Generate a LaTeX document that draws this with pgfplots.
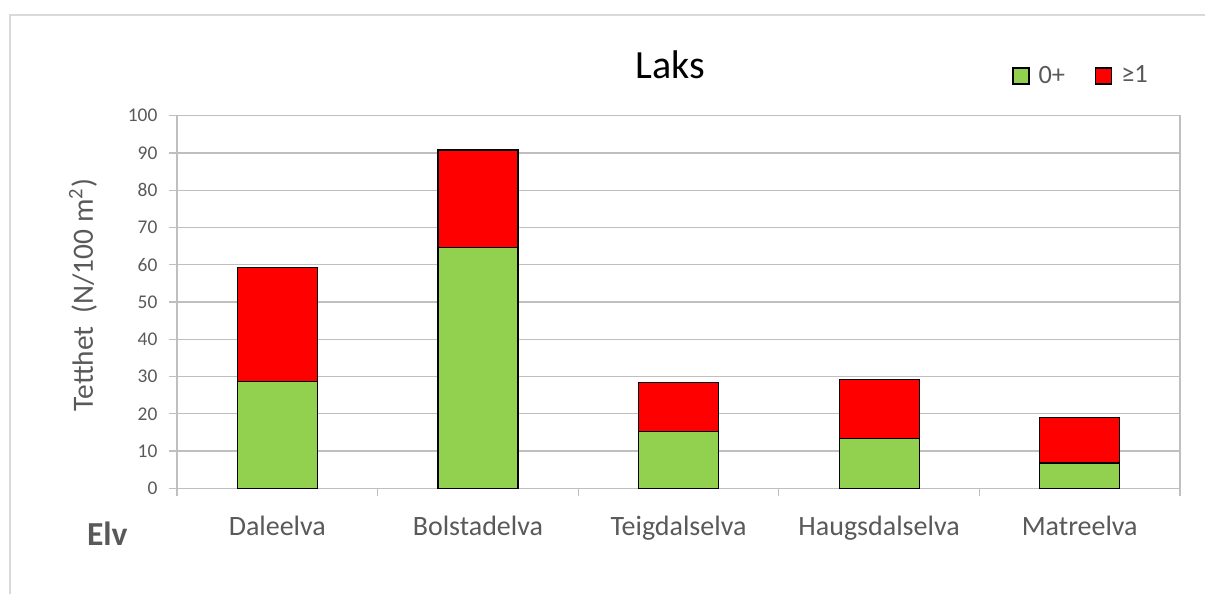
\documentclass[border=0pt]{standalone}
\usepackage{fontspec}
\setmainfont{Carlito}
\usepackage{pgfplots}
\pgfplotsset{compat=1.18}
\definecolor{grn}{HTML}{92D050}
\definecolor{rd}{HTML}{FF0000}
\definecolor{txt}{HTML}{595959}
\definecolor{grid}{HTML}{D9D9D9}
\definecolor{axl}{HTML}{BFBFBF}
\definecolor{brd}{HTML}{D9D9D9}
\begin{document}
\begin{tikzpicture}
\useasboundingbox (0,0) rectangle (602.5pt,297pt);
\draw[brd, line width=0.8pt] (5pt,-5pt) -- (5pt,289.5pt) -- (610pt,289.5pt);
\begin{axis}[
  at={(88.5pt,52.85pt)}, anchor=south west,
  scale only axis, width=501.5pt, height=186.3pt,
  ybar stacked, bar width=40pt,
  xmin=-0.5, xmax=4.5, ymin=0, ymax=100,
  xtick={-0.5,0.5,1.5,2.5,3.5,4.5},
  x tick label as interval,
  xticklabels={Daleelva,Bolstadelva,Teigdalselva,Haugsdalselva,Matreelva},
  ytick={0,10,...,100},
  xtick pos=bottom, ytick pos=left,
  tick align=outside, major tick length=4pt,
  tick style={axl, line width=0.6pt},
  axis line style={axl, line width=0.6pt},
  xmajorgrids=false, ymajorgrids=true, grid style={grid, line width=0.6pt},
  xticklabel style={font=\fontsize{14}{16}\selectfont, text=txt, anchor=base, yshift=-19.7pt},
  yticklabel style={font=\fontsize{9.7}{11}\selectfont, text=txt, xshift=-2.3pt},
  /pgf/number format/assume math mode=true,
  legend columns=2,
  legend style={at={(0.8325,1.1066)}, anchor=west, draw=none, fill=none, inner sep=0pt,
    font=\fontsize{13.2}{15}\selectfont, text=txt,
    /tikz/every even column/.append style={column sep=13pt}},
  legend image code/.code={\draw[#1,draw=black,line width=0.6pt] (0pt,-4pt) rectangle (8pt,4pt); \path (10.5pt,0pt);},
]
\addplot[fill=grn, draw=black, line width=0.6pt] coordinates {(0,28.6) (1,64.6) (2,15.3) (3,13.3) (4,6.8)};
\addplot[fill=rd, draw=black, line width=0.6pt] coordinates {(0,30.7) (1,26.2) (2,13.0) (3,15.8) (4,12.2)};
\legend{0+,≥1}
\end{axis}
\node[anchor=base, font=\fontsize{20}{24}\selectfont] at (335pt,257.5pt) {Laks};
\node[rotate=90, font=\fontsize{14.7}{17}\selectfont, text=txt] at (41.5pt,149.5pt) {Tetthet\ \ (N/100 m\textsuperscript{2})};
\node[anchor=base west, inner sep=0pt, font=\fontsize{16.8}{20}\selectfont\bfseries, text=txt] at (43.3pt,24.15pt) {Elv};
\end{tikzpicture}
\end{document}
